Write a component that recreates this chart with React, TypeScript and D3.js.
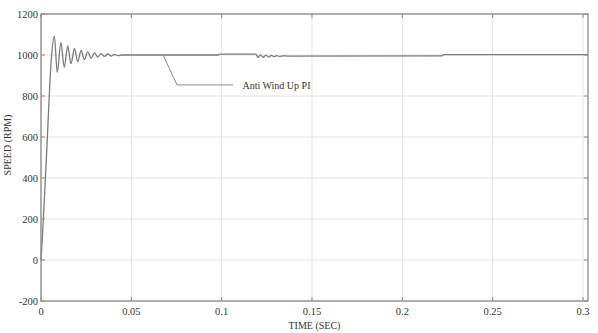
import React from "react";
import * as d3 from "d3";

const timeSec = [0, 0.0010, 0.0030, 0.0058, 0.0074, 0.0090, 0.0110, 0.0129, 0.0148, 0.0166, 0.0185, 0.0203, 0.0222, 0.0240, 0.0259, 0.0277, 0.0296, 0.0314, 0.0333, 0.0351, 0.0370, 0.0388, 0.0407, 0.0425, 0.0450, 0.0980, 0.0990, 0.1190, 0.1200, 0.1215, 0.1230, 0.1245, 0.1260, 0.1275, 0.1290, 0.1305, 0.1320, 0.1340, 0.1360, 0.2220, 0.2230, 0.3028];
const speedRpm = [0, 150, 500, 990, 1092, 915, 1060, 940, 1045, 958, 1032, 968, 1022, 978, 1015, 985, 1010, 990, 1007, 993, 1005, 995, 1003, 997, 1000, 1000, 1004, 1004, 988, 1001, 989, 999, 990, 998, 992, 997, 993, 996, 995, 996, 1002, 1002];

const xTicks = [0, 0.05, 0.1, 0.15, 0.2, 0.25, 0.3];
const xTickLabels = ["0", "0.05", "0.1", "0.15", "0.2", "0.25", "0.3"];
const yTicks = [-200, 0, 200, 400, 600, 800, 1000, 1200];
const yTickLabels = ["-200", "0", "200", "400", "600", "800", "1000", "1200"];

const annotationT = [0.0676, 0.0753, 0.1063];
const annotationV = [1000, 854, 854];
const annotationText = "Anti Wind Up PI";
const annotationTextT = 0.1115;

const xLabel = "TIME (SEC)";
const yLabel = "SPEED (RPM)";

export default function App() {
  const W = 598, H = 333;
  const left = 41, right = 588, top = 14, bottom = 301;
  const x = d3.scaleLinear().domain([0, 0.30277]).range([left, right]);
  const y = d3.scaleLinear().domain([-200, 1200]).range([bottom, top]);
  const pts = timeSec.map((t, i) => [t, speedRpm[i]] as [number, number]);
  const line = d3.line<[number, number]>().x(d => x(d[0])).y(d => y(d[1])).curve(d3.curveMonotoneX);
  const annPts = annotationT.map((t, i) => [t, annotationV[i]] as [number, number]);
  const annLine = d3.line<[number, number]>().x(d => x(d[0])).y(d => y(d[1]));
  const font = "'Liberation Serif', 'Times New Roman', serif";
  const axisColor = "#8a8a8a";
  const gridColor = "#e4e4e4";
  const tl = 4;
  return (
    <svg width={W} height={H} style={{ position: "absolute", left: 0, top: 0, background: "#fff" }} fontFamily={font}>
      <rect x={0} y={0} width={W} height={H} fill="#fff" />
      {xTicks.map((t, i) => (
        <line key={"gx" + i} x1={x(t)} x2={x(t)} y1={top} y2={bottom} stroke={gridColor} strokeWidth={1} />
      ))}
      {yTicks.map((v, i) => (
        <line key={"gy" + i} x1={left} x2={right} y1={y(v)} y2={y(v)} stroke={gridColor} strokeWidth={1} />
      ))}
      <path d={line(pts) || ""} fill="none" stroke="#7a7a7a" strokeWidth={1.3} />
      <path d={annLine(annPts) || ""} fill="none" stroke="#8a8a8a" strokeWidth={1} />
      <text x={x(annotationTextT)} y={y(annotationV[2]) + 4} fontSize={10} fill="#333">{annotationText}</text>
      <rect x={left} y={top} width={right - left} height={bottom - top} fill="none" stroke={axisColor} strokeWidth={1.3} />
      {xTicks.map((t, i) => (
        <g key={"tx" + i}>
          <line x1={x(t)} x2={x(t)} y1={bottom} y2={bottom - tl} stroke={axisColor} />
          <line x1={x(t)} x2={x(t)} y1={top} y2={top + tl} stroke={axisColor} />
          <text x={x(t)} y={bottom + 14} fontSize={10.5} textAnchor="middle" fill="#333">{xTickLabels[i]}</text>
        </g>
      ))}
      {yTicks.map((v, i) => (
        <g key={"ty" + i}>
          <line x1={left} x2={left + tl} y1={y(v)} y2={y(v)} stroke={axisColor} />
          <line x1={right} x2={right - tl} y1={y(v)} y2={y(v)} stroke={axisColor} />
          <text x={left - 3} y={y(v) + 3.5} fontSize={10.5} textAnchor="end" fill="#333">{yTickLabels[i]}</text>
        </g>
      ))}
      <text x={(left + right) / 2} y={329} fontSize={10} textAnchor="middle" fill="#333">{xLabel}</text>
      <text transform={`translate(11, ${145}) rotate(-90)`} fontSize={10} textAnchor="middle" fill="#333">{yLabel}</text>
    </svg>
  );
}
